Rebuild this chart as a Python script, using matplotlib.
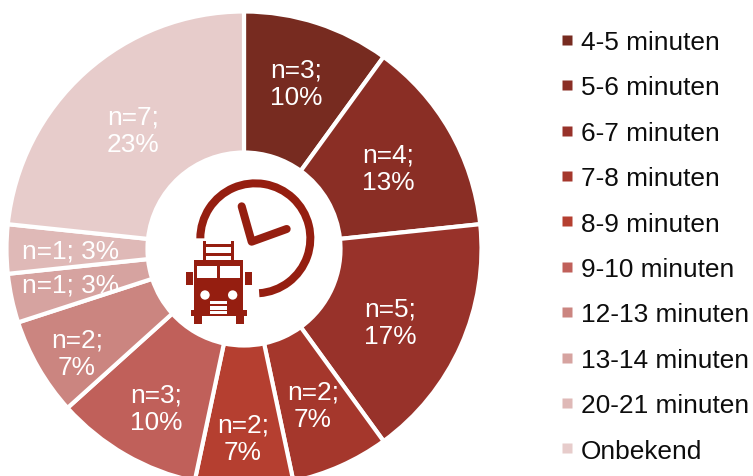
import matplotlib
matplotlib.use('Agg')
import matplotlib.pyplot as plt
from matplotlib.lines import Line2D
from matplotlib.patches import Wedge, Rectangle, Circle

plt.rcParams['font.family'] = ['Liberation Sans', 'DejaVu Sans']

categories = ['4-5 minuten', '5-6 minuten', '6-7 minuten', '7-8 minuten', '8-9 minuten',
              '9-10 minuten', '12-13 minuten', '13-14 minuten', '20-21 minuten', 'Onbekend']
counts = [3, 4, 5, 2, 2, 3, 2, 1, 1, 7]
labels = ['n=3;\n10%', 'n=4;\n13%', 'n=5;\n17%', 'n=2;\n7%', 'n=2;\n7%',
          'n=3;\n10%', 'n=2;\n7%', 'n=1; 3%', 'n=1; 3%', 'n=7;\n23%']
colors = ['#772B20', '#8A2E25', '#98322A', '#A5372C', '#B53F30',
          '#C0605A', '#CB8580', '#D6A3A0', '#DFB9B7', '#E7CCCB']
# label centres in pixels of the picture
label_x = [296, 388, 390, 313, 243, 156, 77, 70, 70, 133]
label_y = [84, 169, 323, 406, 439, 409, 354, 286, 251, 131]

W, H = 753, 477
RED = '#951E10'

fig = plt.figure(figsize=(W / 100, H / 100), dpi=100)
ax = fig.add_axes([0, 0, 1, 1])

wedges, _ = ax.pie(counts, colors=colors, startangle=90, counterclock=False,
                   center=(244, H - 250), radius=237.5,
                   wedgeprops={'width': 141, 'edgecolor': 'white', 'linewidth': 3})
ax.set_xlim(0, W)
ax.set_ylim(0, H)
ax.set_aspect('equal')
ax.axis('off')

for txt, x, y in zip(labels, label_x, label_y):
    ax.text(x, H - y, txt, color='white', fontsize=18.9, ha='center', va='center', linespacing=1.2)


def zx(x):
    return 170 + x / 3

def zy(y):
    return H - (160 + y / 3)

def rect(x0, y0, x1, y1, color=RED):
    ax.add_patch(Rectangle((zx(x0), zy(y1)), (x1 - x0) / 3, (y1 - y0) / 3,
                           facecolor=color, edgecolor='none', zorder=5))

ax.add_patch(Wedge((zx(256), zy(238)), 59, -86, 180, width=8, facecolor=RED, edgecolor='none', zorder=4))
ax.plot([zx(215), zx(245), zx(350)], [zy(142), zy(248), zy(210)], color=RED, lw=5.8,
        solid_capstyle='round', solid_joinstyle='round', zorder=4)

# ladder
rect(100, 246, 108, 304)
rect(184, 246, 192, 304)
rect(104, 256, 188, 263)
rect(104, 283, 188, 290)
# cab
rect(72, 304, 218, 452)
rect(82, 320, 142, 358, 'white')
rect(150, 320, 210, 358, 'white')
rect(47, 338, 68, 378)
rect(224, 338, 245, 378)
ax.add_patch(Circle((zx(105), zy(408)), 14 / 3, facecolor='white', edgecolor='none', zorder=6))
ax.add_patch(Circle((zx(188), zy(408)), 14 / 3, facecolor='white', edgecolor='none', zorder=6))
rect(120, 425, 172, 436, 'white')
rect(120, 442, 172, 452, 'white')
# bumper and wheels
rect(62, 452, 230, 472)
rect(120, 456, 172, 466, 'white')
rect(72, 472, 96, 496)
rect(197, 472, 221, 496)

handles = [Line2D([], [], linestyle='none', marker='s', markersize=7, markerfacecolor=c,
                  markeredgecolor='none') for c in colors]
ax.legend(handles, categories, loc='upper left', bbox_to_anchor=(555 / W, 1 - 31 / H),
          frameon=False, fontsize=18.9, labelspacing=0.815, handlelength=0.95,
          handletextpad=0.03, borderpad=0, borderaxespad=0, labelcolor='#0D0D0D')

fig.savefig('out.png', dpi=100)
